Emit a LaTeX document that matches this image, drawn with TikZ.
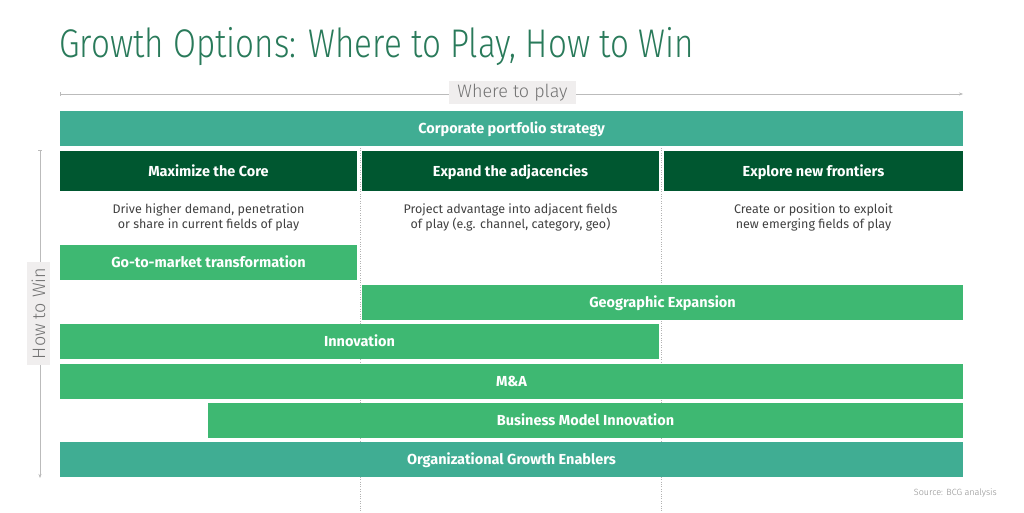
\documentclass[tikz,border=0pt]{standalone}
\usepackage{graphicx}
\usepackage{fontspec}
\setmainfont{Fira Sans}
\newfontfamily\lightfont{Fira Sans Light}
\usetikzlibrary{arrows.meta,positioning}

\definecolor{bcgtitle}{HTML}{297A5A}
\definecolor{bcgteal}{HTML}{40AD93}
\definecolor{bcggreen}{HTML}{3EB872}
\definecolor{bcgdark}{HTML}{005730}
\definecolor{axisgray}{HTML}{BBBBBB}
\definecolor{labelbg}{HTML}{F0EEEE}

\tikzset{
  bar/.style={fill=bcggreen, text=white, font=\bfseries\fontsize{14.5}{16}\selectfont,
    minimum height=35pt, inner sep=0pt, text height=12pt, text depth=2pt},
  tealbar/.style={bar, fill=bcgteal},
  headbar/.style={bar, fill=bcgdark, minimum height=40pt},
  desc/.style={text=black!75, font=\fontsize{12.5}{15}\selectfont, align=center},
  axislabel/.style={fill=labelbg, text=black!55, font=\lightfont\fontsize{18}{20}\selectfont,
    inner sep=0pt, minimum height=23pt},
  axisline/.style={axisgray, {Bar[width=4pt]}-{Stealth[length=4pt,width=3pt]}},
  guide/.style={black!30, dotted, thin}
}

\begin{document}
\begin{tikzpicture}[x=1pt,y=-1pt]
  \useasboundingbox (0,0) rectangle (1024,512);

  % Title
  \node[anchor=base west, text=bcgtitle, inner sep=0pt,
    font=\lightfont\fontsize{40}{44}\selectfont] (title) at (59,57)
    {\scalebox{0.83}[1]{Growth Options: Where to Play, How to Win}};

  % Axes
  \coordinate (wherel) at (60,94);
  \coordinate (wherer) at (963,94);
  \draw[axisline] (wherel) -- (wherer);
  \node[axislabel, minimum width=127pt] (where) at (512.5,92.5) {Where to play};

  \coordinate (howt) at (40,150);
  \coordinate (howb) at (40,478);
  \draw[axisline] (howt) -- (howb);
  \node[axislabel, rotate=90, minimum width=103pt] (how) at (38.5,313.5) {How to Win};

  % Column guides
  \coordinate (guideat) at (360,148);
  \coordinate (guideab) at (360,512);
  \coordinate (guidebt) at (661,148);
  \coordinate (guidebb) at (661,512);
  \draw[guide] (guideat) -- (guideab);
  \draw[guide] (guidebt) -- (guidebb);

  % Where to play
  \node[tealbar, minimum width=903pt] (corp) at (511.5,128.5) {Corporate portfolio strategy};
  \node[headbar, minimum width=297pt] (core) at (208.5,171) {Maximize the Core};
  \node[headbar, minimum width=297pt] (adjacent) at (510.5,171) {Expand the adjacencies};
  \node[headbar, minimum width=299pt] (frontier) at (813.5,171) {Explore new frontiers};

  \node[desc] (coredesc) at (208.5,217.5) {Drive higher demand, penetration\\or share in current fields of play};
  \node[desc] (adjacentdesc) at (510.5,217.5) {Project advantage into adjacent fields\\of play (e.g. channel, category, geo)};
  \node[desc] (frontierdesc) at (813.5,217.5) {Create or position to exploit\\new emerging fields of play};

  % How to win
  \node[bar, minimum width=297pt] (gtm) at (208.5,262.5) {Go-to-market transformation};
  \node[bar, minimum width=601pt] (geo) at (662.5,302.5) {Geographic Expansion};
  \node[bar, minimum width=599pt] (innov) at (359.5,341.5) {Innovation};
  \node[bar, minimum width=903pt] (ma) at (511.5,381.5) {M\&A};
  \node[bar, minimum width=755pt] (bmi) at (585.5,420.5) {Business Model Innovation};
  \node[tealbar, minimum width=903pt] (enablers) at (511.5,459.5) {Organizational Growth Enablers};

  % Source
  \node[anchor=east, text=black!45, inner sep=0pt,
    font=\lightfont\fontsize{9}{10}\selectfont] (source) at (997,493) {Source: BCG analysis};
\end{tikzpicture}
\end{document}
